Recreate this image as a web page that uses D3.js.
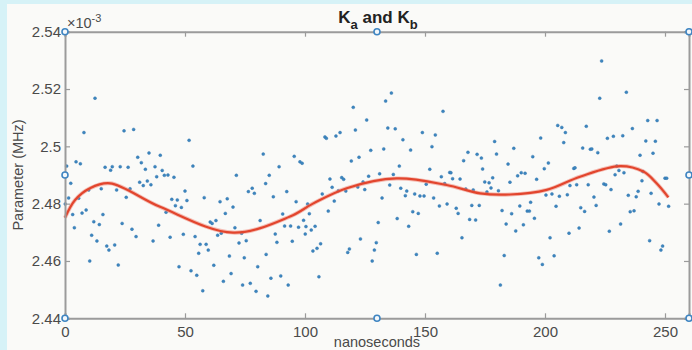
<!DOCTYPE html>
<html><head><meta charset="utf-8">
<script src="https://cdn.jsdelivr.net/npm/d3@7"></script>
<style>html,body{margin:0;padding:0;background:#d6f2f7;} svg{display:block;}</style>
</head><body>
<svg id="chart" width="692" height="350"></svg>
<script>
// Scatter samples: time (ns) and parameter (x10^-3 MHz)
const sampleT = [0.1,0.7,1.5,2.4,3.2,3.9,4.6,5.7,6.4,7.1,7.9,8.8,9.9,10.3,11.1,12.0,12.5,13.3,14.3,15.1,15.8,16.7,17.4,18.3,19.0,19.7,20.7,21.5,22.2,23.0,23.8,24.6,25.5,26.3,27.1,27.9,28.6,29.6,30.3,31.1,31.8,32.6,33.5,34.3,35.0,35.8,36.7,37.5,38.2,39.0,39.7,40.5,41.4,42.1,42.9,43.8,44.5,45.4,46.0,46.8,47.5,48.5,49.3,50.0,50.8,51.7,52.5,53.3,54.2,54.9,55.7,56.3,57.4,58.0,58.8,59.7,60.5,61.3,62.0,62.9,63.6,64.6,65.1,66.0,66.8,67.6,68.5,69.2,70.0,70.8,71.4,72.5,73.6,74.0,74.7,75.5,76.4,77.2,78.0,78.9,79.6,80.3,81.3,82.6,83.6,83.8,84.5,85.1,85.8,86.8,87.6,88.3,89.2,89.9,90.7,91.5,92.4,93.0,94.0,94.7,95.5,96.3,97.3,97.9,98.8,99.4,100.1,100.4,101.1,101.8,102.6,103.3,104.2,105.0,105.8,106.5,107.2,108.3,108.9,109.7,110.4,111.3,112.2,112.9,113.9,114.6,115.3,116.1,117.0,117.8,118.5,119.3,120.1,121.0,122.0,122.5,123.1,124.2,124.9,125.7,126.5,127.4,128.0,128.9,129.7,130.5,131.1,132.1,132.8,133.6,134.5,135.3,136.0,136.8,137.6,138.4,139.3,139.9,140.8,141.8,142.4,143.2,144.0,144.9,145.7,146.4,147.2,147.9,148.9,149.6,150.5,152.0,152.9,153.6,154.3,155.1,156.0,156.8,157.5,158.2,159.2,160.3,160.8,161.5,163.0,163.8,164.6,165.4,166.1,167.0,167.9,168.6,169.5,170.1,171.1,171.7,172.6,173.5,174.0,174.9,175.8,176.7,177.5,178.2,179.0,179.8,180.6,181.4,182.1,183.0,183.8,184.6,185.4,186.1,187.0,187.8,188.6,189.5,190.1,191.0,191.7,192.6,193.5,194.0,194.9,195.6,196.5,197.4,198.2,198.9,199.7,200.4,201.4,202.1,202.9,203.8,204.6,205.3,206.0,207.0,207.8,208.5,209.3,210.0,210.4,212.0,212.5,213.2,214.2,214.9,215.7,216.5,217.2,218.0,218.9,219.5,220.4,221.3,222.0,222.8,223.6,224.5,225.3,226.0,226.8,227.5,228.5,229.2,229.9,230.8,231.5,232.4,232.9,233.9,234.7,235.5,236.4,237.1,238.0,238.8,239.6,240.4,240.8,242.0,242.8,243.6,244.2,245.0,246.0,246.7,247.5,248.3,249.0,250.0,250.7,251.5];
const sampleV = [2.4799,2.4931,2.4820,2.4871,2.4762,2.4716,2.4946,2.4819,2.4939,2.4767,2.5048,2.4778,2.4848,2.4600,2.4690,2.4737,2.5168,2.4670,2.4727,2.4852,2.4762,2.4927,2.4652,2.4638,2.4917,2.4929,2.4656,2.4848,2.4586,2.4929,2.4731,2.5054,2.4822,2.4927,2.4852,2.4711,2.5059,2.4685,2.4962,2.4875,2.4943,2.4863,2.4920,2.4879,2.4977,2.4866,2.4670,2.4929,2.4894,2.4725,2.4969,2.4916,2.4899,2.4770,2.4900,2.4683,2.4815,2.4892,2.4793,2.4813,2.4580,2.4787,2.4693,2.4844,2.4811,2.5021,2.4566,2.4931,2.4685,2.4550,2.4627,2.4658,2.4496,2.4821,2.4658,2.4638,2.4736,2.4731,2.4585,2.4741,2.4690,2.4807,2.4697,2.4529,2.4766,2.4817,2.4617,2.4556,2.4788,2.4716,2.4899,2.4663,2.4697,2.4516,2.4611,2.4671,2.4842,2.4522,2.4854,2.4836,2.4494,2.4580,2.4741,2.4973,2.4870,2.4623,2.4478,2.4899,2.4540,2.4824,2.4694,2.4665,2.4929,2.4548,2.4764,2.4722,2.4842,2.4516,2.4722,2.4669,2.4965,2.4807,2.4718,2.4946,2.4941,2.4742,2.4694,2.4720,2.4799,2.4765,2.4708,2.4635,2.4721,2.4644,2.4545,2.4660,2.4834,2.5033,2.5028,2.4774,2.4886,2.4857,2.4809,2.5036,2.4845,2.5048,2.4891,2.4885,2.4844,2.4630,2.4642,2.4949,2.5136,2.5057,2.4858,2.4962,2.4677,2.4876,2.4849,2.5092,2.4896,2.4986,2.4600,2.4638,2.4664,2.4734,2.4904,2.4820,2.4991,2.5158,2.5064,2.4865,2.5186,2.4902,2.5061,2.4748,2.4931,2.4854,2.5023,2.4828,2.4844,2.4721,2.4987,2.4772,2.4834,2.4623,2.4766,2.4827,2.5048,2.4827,2.4868,2.4920,2.4999,2.4820,2.5040,2.4627,2.4792,2.4894,2.5122,2.4870,2.4799,2.4909,2.4908,2.4887,2.4784,2.4766,2.4886,2.4681,2.4950,2.4851,2.4979,2.4745,2.4794,2.4848,2.4743,2.4972,2.4794,2.4959,2.4921,2.4876,2.4841,2.4873,2.4855,2.4890,2.5017,2.4973,2.4845,2.4516,2.4776,2.4619,2.4729,2.4938,2.4875,2.4765,2.4993,2.4705,2.4897,2.4792,2.4908,2.4726,2.4906,2.4774,2.4774,2.4805,2.4964,2.4749,2.4885,2.4611,2.5029,2.4588,2.4922,2.4830,2.4942,2.4681,2.4834,2.4618,2.4791,2.5073,2.4826,2.5066,2.5013,2.5048,2.4831,2.4697,2.4863,2.4923,2.4925,2.4866,2.4715,2.4786,2.4994,2.4773,2.5070,2.4866,2.4990,2.4991,2.4823,2.4794,2.4978,2.5168,2.5298,2.4869,2.4866,2.5028,2.4704,2.4849,2.5035,2.4901,2.4931,2.4916,2.4729,2.5037,2.4908,2.5189,2.4829,2.4772,2.5062,2.4775,2.4824,2.4843,2.4969,2.4880,2.4912,2.5019,2.5090,2.4671,2.4836,2.4976,2.5018,2.5090,2.4799,2.4638,2.4652,2.4889,2.4889,2.4791];

// Fitted curve
const fitT = [0,4.2,10.4,18.75,39.6,70,93.75,103.5,117.4,138.2,159,172.9,185.4,200.7,214.6,231.25,241,246.5,251.4];
const fitV = [2.4751,2.4813,2.4854,2.4871,2.4789,2.4699,2.4755,2.4801,2.4854,2.4888,2.4865,2.4836,2.4832,2.4848,2.4894,2.4931,2.4912,2.4871,2.4822];

const xTicks = [0,50,100,150,200,250];
const yTicks = [2.44,2.46,2.48,2.5,2.52,2.54];
const xDomain = [0,260];
const yDomain = [2.44,2.54];
const handleX = [0,130,260];
const handleY = [2.44,2.49,2.54];
const titleText = ["K","a"," and K","b"];
const xLabel = "nanoseconds";
const yLabel = "Parameter (MHz)";
const expLabel = ["\u00d710","-3"];

const svg = d3.select("#chart");
const L = 65, R = 689, T = 31.7, B = 318.3;
const x = d3.scaleLinear().domain(xDomain).range([L, R]);
const y = d3.scaleLinear().domain(yDomain).range([B, T]);
const font = "'Liberation Sans', Arial, Helvetica, sans-serif";
const axisCol = "#9b9b9b", textCol = "#4a4a4a";

// figure background
svg.append("rect").attr("x",7).attr("y",4).attr("width",685).attr("height",346).attr("fill","#fafaf8");

// data points
svg.append("g").selectAll("circle").data(sampleT).join("circle")
  .attr("cx",(d)=>x(d)).attr("cy",(d,i)=>y(sampleV[i])).attr("r",1.5)
  .attr("fill","#3d86bf").attr("stroke","#2a6fa8").attr("stroke-width",0.4);

// fit line
const line = d3.line().x(d=>x(d[0])).y(d=>y(d[1])).curve(d3.curveCatmullRom.alpha(0.5));
svg.append("path").datum(fitT.map((t,i)=>[t,fitV[i]]))
  .attr("d",line).attr("fill","none").attr("stroke","#f08070").attr("stroke-width",4).attr("stroke-opacity",0.5);
svg.append("path").datum(fitT.map((t,i)=>[t,fitV[i]]))
  .attr("d",line).attr("fill","none").attr("stroke","#e2452d").attr("stroke-width",2.2);

// axes (box with inward ticks)
const gb = svg.append("g").attr("transform",`translate(0,${B})`)
  .call(d3.axisBottom(x).tickValues(xTicks).tickSize(-5).tickPadding(8).tickFormat(d3.format("d")));
const gt = svg.append("g").attr("transform",`translate(0,${T})`)
  .call(d3.axisTop(x).tickValues(xTicks).tickSize(-5).tickFormat(""));
const gl = svg.append("g").attr("transform",`translate(${L},0)`)
  .call(d3.axisLeft(y).tickValues(yTicks).tickSize(-5).tickPadding(4).tickFormat(d=>String(+d.toFixed(2))));
const gr = svg.append("g").attr("transform",`translate(${R},0)`)
  .call(d3.axisRight(y).tickValues(yTicks).tickSize(-5).tickFormat(""));
[gb,gt,gl,gr].forEach(g=>{
  g.select(".domain").attr("stroke",axisCol).attr("stroke-width",2);
  g.selectAll(".tick line").attr("stroke",axisCol).attr("stroke-width",1.2);
  g.selectAll(".tick text").attr("fill",textCol).attr("font-family",font).attr("font-size",15);
});
gl.selectAll(".tick text").attr("x",-4);

// selection handles
const hs = [];
handleX.forEach(hx=>handleY.forEach(hy=>{ if(!(hx===130 && hy===2.49)) hs.push([hx,hy]); }));
svg.append("g").selectAll("circle").data(hs).join("circle")
  .attr("cx",d=>x(d[0])).attr("cy",d=>y(d[1])).attr("r",3)
  .attr("fill","#f4f8fb").attr("stroke","#3f85c2").attr("stroke-width",1.6);

// exponent label
const ex = svg.append("text").attr("x",L+2).attr("y",28).attr("font-family",font).attr("font-size",14.5).attr("fill",textCol);
ex.append("tspan").text(expLabel[0]);
ex.append("tspan").attr("dy",-6).attr("font-size",11).text(expLabel[1]);

// title
const tt = svg.append("text").attr("x",378).attr("y",23).attr("text-anchor","middle")
  .attr("font-family",font).attr("font-size",17).attr("font-weight","bold").attr("fill","#222");
tt.append("tspan").text(titleText[0]);
tt.append("tspan").attr("dy",6).attr("font-size",13).text(titleText[1]);
tt.append("tspan").attr("dy",-6).text(titleText[2]);
tt.append("tspan").attr("dy",6).attr("font-size",13).text(titleText[3]);

// axis labels
svg.append("text").attr("x",(L+R)/2).attr("y",347).attr("text-anchor","middle")
  .attr("font-family",font).attr("font-size",14.5).attr("fill",textCol).text(xLabel);
svg.append("text").attr("transform",`translate(23,${(T+B)/2}) rotate(-90)`).attr("text-anchor","middle")
  .attr("font-family",font).attr("font-size",14.5).attr("fill",textCol).text(yLabel);
</script>
</body></html>
